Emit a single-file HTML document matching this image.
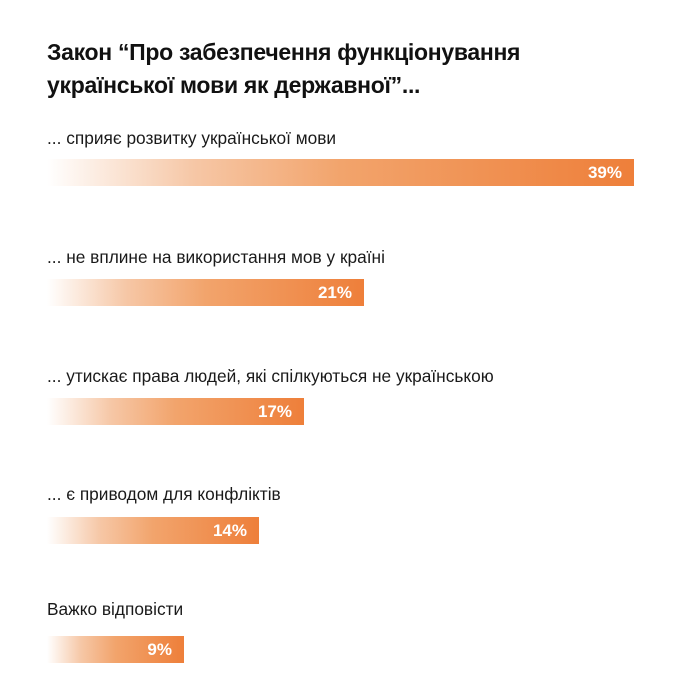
<!DOCTYPE html>
<html><head><meta charset="utf-8"><style>
body{margin:0;width:690px;height:690px;background:#fff;font-family:"Liberation Sans","DejaVu Sans",sans-serif;position:relative;overflow:hidden;color:#111}
.t{position:absolute;left:47px;top:36px;font-size:23px;font-weight:bold;line-height:33px;letter-spacing:-0.3px}
.l{position:absolute;left:47px;font-size:17.3px;line-height:20px;color:#1a1a1a}
.b{position:absolute;left:47px;height:27px;background:linear-gradient(to right,#fff 0%,#f6c7a6 25%,#f2a46c 50%,#ee7f3a 100%)}
.b span{position:absolute;right:12px;top:4px;color:#fff;font-weight:bold;font-size:17px;line-height:20px}
</style></head><body>
<div class="t">Закон “Про забезпечення функціонування<br>української мови як державної”...</div>
<div class="l" style="top:128px">... сприяє розвитку української мови</div>
<div class="b" style="top:159px;width:587px"><span>39%</span></div>
<div class="l" style="top:247px">... не вплине на використання мов у країні</div>
<div class="b" style="top:279px;width:317px"><span>21%</span></div>
<div class="l" style="top:366px">... утискає права людей, які спілкуються не українською</div>
<div class="b" style="top:398px;width:257px"><span>17%</span></div>
<div class="l" style="top:484px">... є приводом для конфліктів</div>
<div class="b" style="top:517px;width:212px"><span>14%</span></div>
<div class="l" style="top:599px">Важко відповісти</div>
<div class="b" style="top:636px;width:137px"><span>9%</span></div>
</body></html>
